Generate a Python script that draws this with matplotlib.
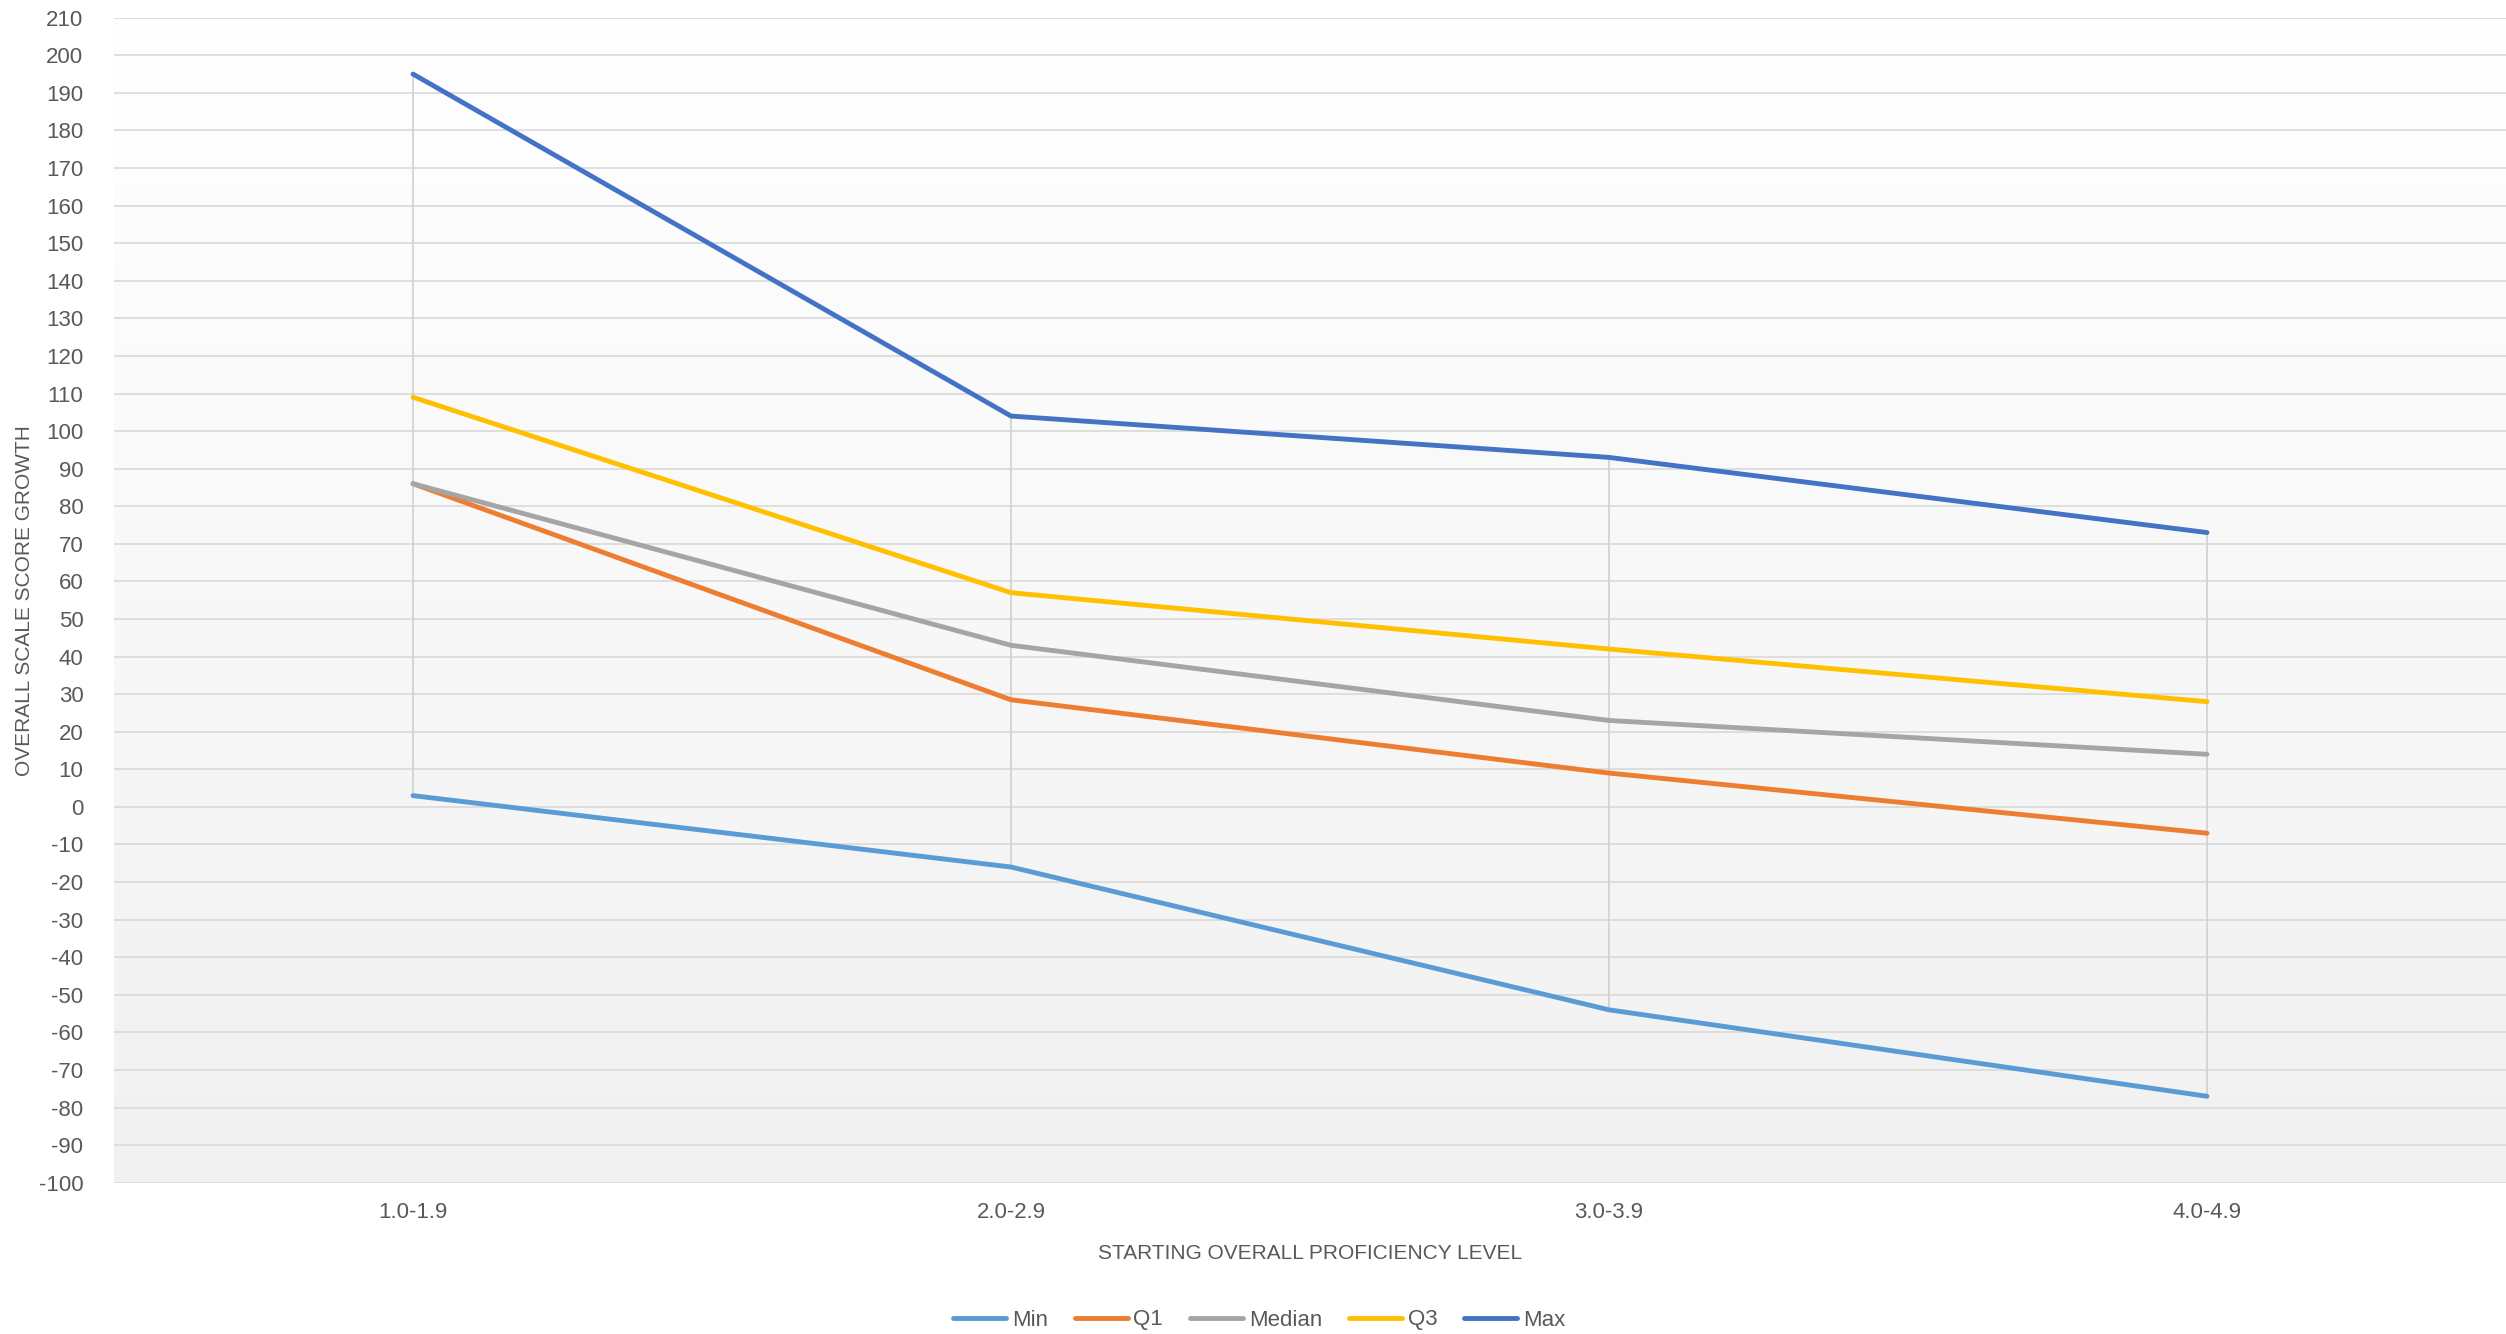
import matplotlib
matplotlib.use("Agg")
import matplotlib.pyplot as plt
import numpy as np

categories = ["1.0-1.9", "2.0-2.9", "3.0-3.9", "4.0-4.9"]
min_vals = [3, -16, -54, -77]
q1_vals = [86, 28.5, 9, -7]
median_vals = [86, 43, 23, 14]
q3_vals = [109, 57, 42, 28]
max_vals = [195, 104, 93, 73]

series_names = ["Min", "Q1", "Median", "Q3", "Max"]
series_vals = [min_vals, q1_vals, median_vals, q3_vals, max_vals]
series_colors = ["#5B9BD5", "#ED7D31", "#A5A5A5", "#FFC000", "#4472C4"]

plt.rcParams['font.family'] = ['Liberation Sans', 'DejaVu Sans']
plt.rcParams['axes.unicode_minus'] = False

fig = plt.figure(figsize=(25.06, 13.34), dpi=100)
ax = fig.add_axes([114/2506, 1 - 1182.7/1334, 1 - 114/2506, (1182.7 - 17.7)/1334])

x = np.arange(len(categories))

# gradient background: white at top to light grey at bottom
grad = np.linspace(1.0, 0.945, 256).reshape(-1, 1)
grad_rgb = np.dstack([grad, grad, grad])
ax.imshow(grad_rgb, extent=[0, 1, 0, 1], origin='upper', transform=ax.transAxes,
          aspect='auto', zorder=0)

ax.set_xlim(-0.5, len(categories) - 0.5)
ax.set_ylim(-100, 210)
ax.set_yticks(np.arange(-100, 211, 10))
ax.yaxis.grid(True, color="#d9d9d9", linewidth=1.2, zorder=1)
ax.set_axisbelow(True)

# high-low lines
lows = np.min(np.array(series_vals), axis=0)
highs = np.max(np.array(series_vals), axis=0)
ax.vlines(x, lows, highs, colors="#d0d0d0", linewidth=1.2, zorder=2)

for name, vals, col in zip(series_names, series_vals, series_colors):
    ax.plot(x, vals, color=col, linewidth=3.5, label=name, solid_joinstyle='round',
            solid_capstyle='round', zorder=3)

for s in ax.spines.values():
    s.set_visible(False)
ax.tick_params(axis='both', length=0, labelsize=16, colors="#595959")
ax.tick_params(axis='y', pad=22)
ax.tick_params(axis='x', pad=14)
ax.set_xticks(x)
ax.set_xticklabels(categories)

ax.set_xlabel("STARTING OVERALL PROFICIENCY LEVEL", fontsize=15, color="#595959", labelpad=15)
fig.text(25/2506, 1 - (1182.7 + 17.7) / 2 / 1334, "OVERALL SCALE SCORE GROWTH", rotation=90,
         fontsize=15, color="#595959", ha='center', va='center')

leg = fig.legend(loc='center', bbox_to_anchor=(1259/2506, 1 - 1320/1334), ncol=5, frameon=False,
                 fontsize=16, handlelength=2.4, handletextpad=0.25, columnspacing=1.2)
for t in leg.get_texts():
    t.set_color("#595959")

fig.savefig("out.png", dpi=100)
